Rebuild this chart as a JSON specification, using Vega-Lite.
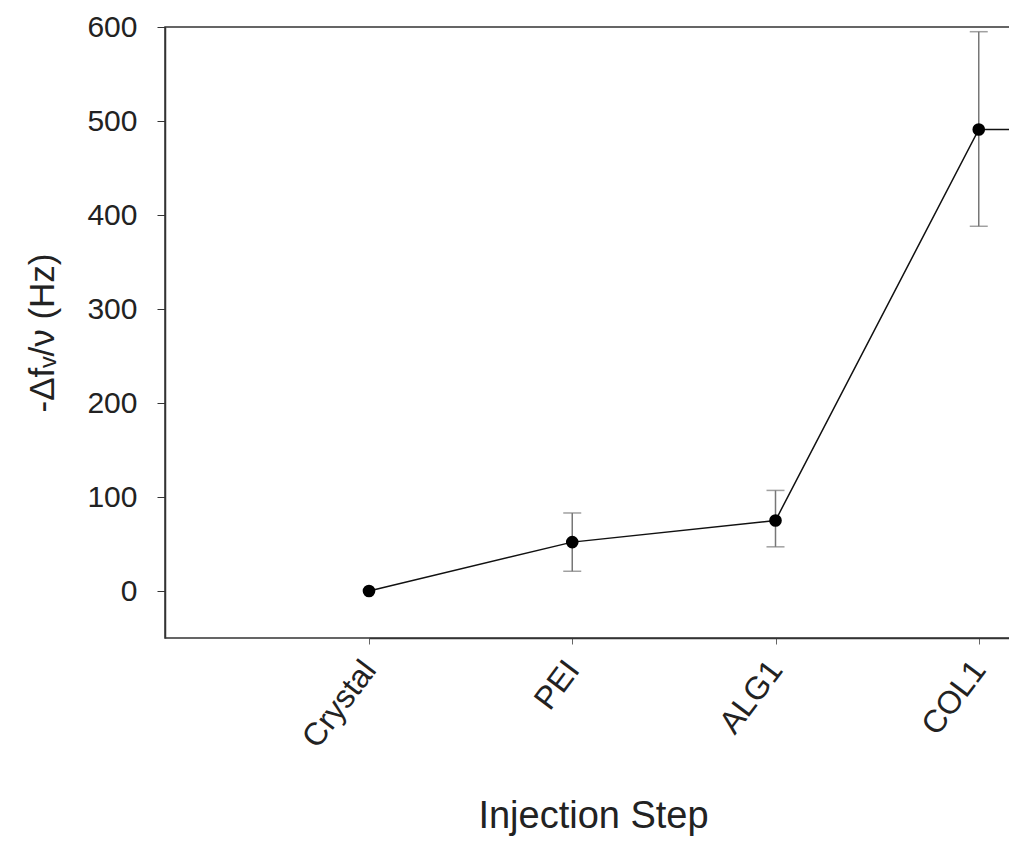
{
  "$schema": "https://vega.github.io/schema/vega-lite/v6.json",
  "autosize": {"type": "none"},
  "padding": {"left": 165, "top": 27, "right": 0, "bottom": 203},
  "width": 846,
  "height": 611,
  "background": "white",
  "config": {
    "font": "Liberation Sans",
    "view": {"stroke": "#333", "strokeWidth": 1.5}
  },
  "data": {
    "values": [
      {"step": "Crystal", "value": 0, "lo": null, "hi": null},
      {"step": "PEI", "value": 52, "lo": 21, "hi": 83},
      {"step": "ALG1", "value": 75, "lo": 47, "hi": 107},
      {"step": "COL1", "value": 491, "lo": 388, "hi": 595},
      {"step": "ALG2", "value": 490, "lo": null, "hi": null}
    ]
  },
  "encoding": {
    "x": {
      "field": "step",
      "type": "ordinal",
      "sort": null,
      "scale": {"type": "point", "domain": ["Crystal", "PEI", "ALG1", "COL1", "ALG2"], "range": [204, 1017], "padding": 0},
      "axis": {
        "title": "Injection Step",
        "titleFontSize": 38,
        "titleFontWeight": "normal",
        "titleColor": "#222",
        "titlePadding": 44,
        "titleX": 428,
        "labelAngle": -53,
        "labelAlign": "right",
        "labelBaseline": "middle",
        "labelFontSize": 32,
        "labelColor": "#222",
        "labelPadding": 20,
        "tickSize": 6,
        "tickColor": "#666",
        "domainColor": "#333",
        "domainWidth": 1.5,
        "grid": false
      }
    }
  },
  "layer": [
    {
      "mark": {"type": "errorbar", "ticks": {"size": 18}, "color": "#777", "thickness": 1.5, "clip": true},
      "transform": [{"filter": "datum.lo != null"}],
      "encoding": {
        "y": {"field": "lo", "type": "quantitative", "title": "-Δfᵥ/ν (Hz)"},
        "y2": {"field": "hi"}
      }
    },
    {
      "mark": {"type": "line", "color": "#111", "strokeWidth": 1.5, "clip": true},
      "encoding": {
        "y": {"field": "value", "type": "quantitative", "title": "-Δfᵥ/ν (Hz)",
          "scale": {"domain": [-50, 600], "nice": false, "zero": false},
          "axis": {
            "titleFontSize": 35,
            "titleFontWeight": "normal",
            "titleColor": "#222",
            "titlePadding": 26,
            "values": [0, 100, 200, 300, 400, 500, 600],
            "labelFontSize": 30,
            "labelColor": "#222",
            "labelPadding": 20,
            "tickSize": 8,
            "tickColor": "#333",
            "domainColor": "#333",
            "domainWidth": 1.5,
            "grid": false
          }
        }
      }
    },
    {
      "mark": {"type": "point", "filled": true, "color": "#000", "size": 160, "opacity": 1, "clip": true},
      "encoding": {
        "y": {"field": "value", "type": "quantitative", "title": "-Δfᵥ/ν (Hz)"}
      }
    }
  ]
}
